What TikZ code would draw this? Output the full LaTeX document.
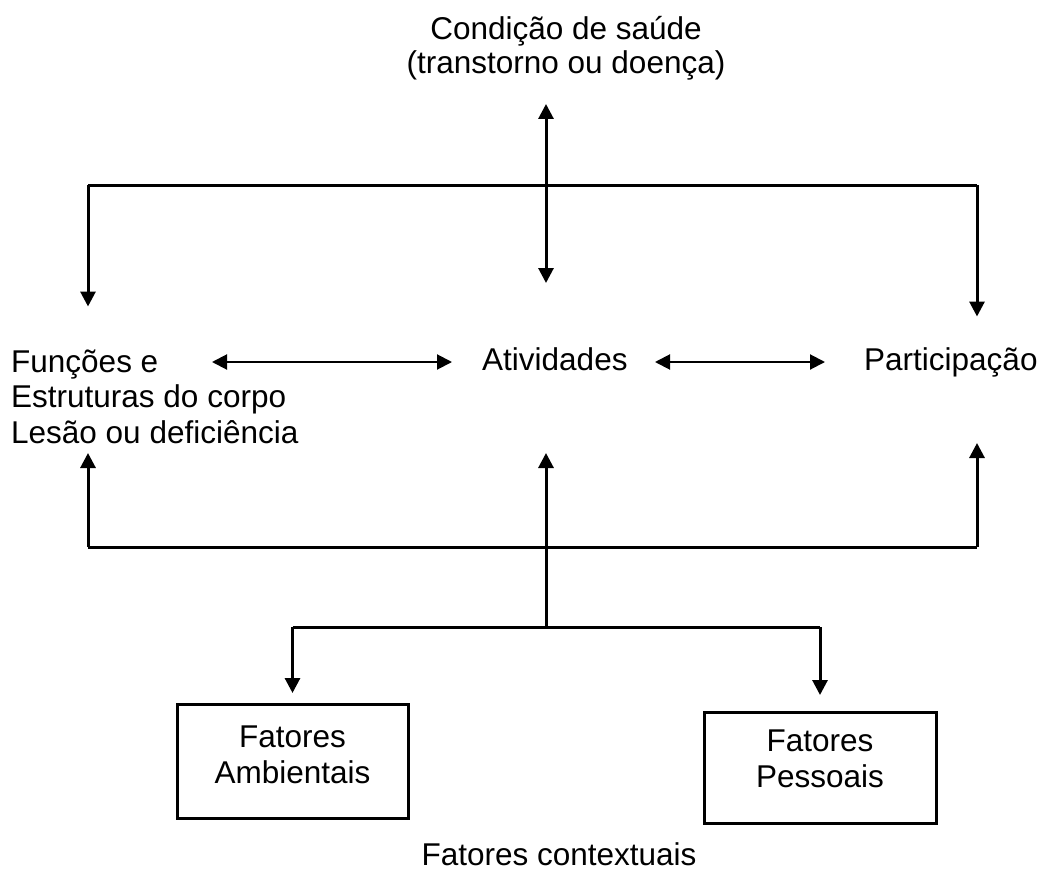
\documentclass[tikz,border=0pt]{standalone}
\usepackage{fontspec}
\setmainfont{Liberation Sans}
\usetikzlibrary{arrows.meta}
\begin{document}
\begin{tikzpicture}[x=1pt,y=-1pt,
  lbl/.style={inner sep=0pt, font=\fontsize{31.5}{35.5}\selectfont},
  ln/.style={line width=3pt},
  arr/.style={line width=3pt,-{Triangle[length=15pt,width=15pt]}},
  darr/.style={line width=3pt,{Triangle[length=15pt,width=15pt]}-{Triangle[length=15pt,width=15pt]}},
  harr/.style={line width=2pt,{Triangle[length=15pt,width=15pt]}-{Triangle[length=15pt,width=15pt]}},
  fbox/.style={draw,line width=3pt,inner sep=0pt},
  btxt/.style={inner sep=0pt,align=center,font=\fontsize{31.5}{36}\selectfont}
]
\useasboundingbox (0,0) rectangle (1038,872);
% texts
\node[lbl,align=center,anchor=base,font=\fontsize{31.5}{34}\selectfont] (cond) at (566,74) {Condição de saúde\\(transtorno ou doença)};
\node[lbl,align=left,anchor=base west] (fun) at (11,443) {Funções e\\Estruturas do corpo\\Lesão ou deficiência};
\node[lbl,anchor=base west] (ativ) at (482,370) {Atividades};
\node[lbl,anchor=base west] (part) at (864,370) {Participação};
\node[fbox,minimum width=231,minimum height=114] (amb) at (292.5,761) {};
\node[btxt,anchor=base] (ambt) at (292.5,783) {Fatores\\Ambientais};
\node[fbox,minimum width=232,minimum height=111] (pes) at (820,767.5) {};
\node[btxt,anchor=base] (pest) at (820,787.5) {Fatores\\Pessoais};
\node[lbl,anchor=base] (ctx) at (559,865) {Fatores contextuais};
% coordinates
\coordinate (tl) at (88,185);
\coordinate (tr) at (977,185);
\coordinate (ctop) at (546,104);
\coordinate (cbot) at (546,283);
\coordinate (funtop) at (88,306.5);
\coordinate (parttop) at (977,316.5);
\coordinate (bl) at (88,547);
\coordinate (br) at (977,547);
\coordinate (funbot) at (88,453);
\coordinate (partbot) at (977,443);
\coordinate (ativbot) at (546,453);
\coordinate (jc) at (546,627);
\coordinate (jl) at (292.5,627);
\coordinate (jr) at (820,627);
\coordinate (ambtop) at (292.5,693);
\coordinate (pestop) at (820,695);
\coordinate (h1a) at (212,362);
\coordinate (h1b) at (452,362);
\coordinate (h2a) at (655,362);
\coordinate (h2b) at (825,362);
% connectors
\draw[ln] (tl) -- (tr);
\draw[arr] (tl) -- (funtop);
\draw[arr] (tr) -- (parttop);
\draw[darr] (ctop) -- (cbot);
\draw[harr] (h1a) -- (h1b);
\draw[harr] (h2a) -- (h2b);
\draw[ln] (bl) -- (br);
\draw[arr] (bl) -- (funbot);
\draw[arr] (br) -- (partbot);
\draw[arr] (jc) -- (ativbot);
\draw[ln] (jl) -- (jr);
\draw[arr] (jl) -- (ambtop);
\draw[arr] (jr) -- (pestop);
\end{tikzpicture}
\end{document}
